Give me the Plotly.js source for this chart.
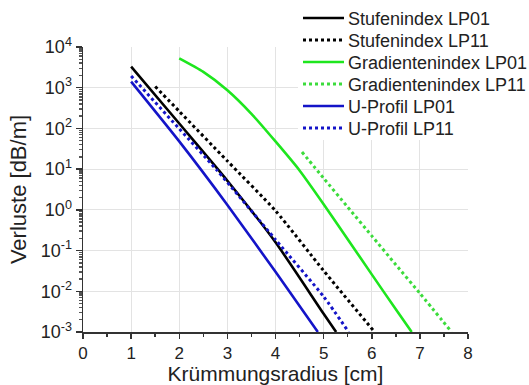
<!DOCTYPE html>
<html>
<head>
<meta charset="utf-8">
<script src="https://cdn.plot.ly/plotly-3.0.1.min.js"></script>
<style>html,body{margin:0;padding:0;background:#fff;}#chart{width:529px;height:385px;}</style>
</head>
<body>
<div id="chart"></div>
<script>
// Krümmungsradius [cm] and Verluste [dB/m]
const stufenLP01_x = [1, 2, 3, 4, 5, 5.26];
const stufenLP01_y = [3300, 132, 5.2, 0.16, 0.0028, 0.001];

const stufenLP11_x = [1.5, 2, 3, 4, 5, 6.06];
const stufenLP11_y = [1070, 263, 15.8, 0.95, 0.032, 0.001];

const gradLP01_x = [2, 2.5, 3, 3.5, 4, 4.5, 5, 5.5, 6, 6.5, 6.83];
const gradLP01_y = [5250, 2450, 870, 229, 47.9, 9.3, 1.38, 0.19, 0.026, 0.0036, 0.001];

const gradLP11_x = [4.55, 5, 5.5, 6, 6.5, 7, 7.66];
const gradLP11_y = [26.3, 6.0, 1.17, 0.23, 0.045, 0.0089, 0.001];

const uLP01_x = [1, 2, 3, 4, 4.88];
const uLP01_y = [1410, 48, 1.32, 0.030, 0.001];

const uLP11_x = [1, 2, 2.78, 4, 5, 5.52];
const uLP11_y = [1950, 98, 9.5, 0.186, 0.0074, 0.001];

const seriesNames = ["Stufenindex LP01", "Stufenindex LP11", "Gradientenindex LP01",
                     "Gradientenindex LP11", "U-Profil LP01", "U-Profil LP11"];
const seriesColors = ["#000000", "#000000", "#1ee61e", "#3cdc3c", "#1414c8", "#1414c8"];
const seriesDash = ["solid", "dot", "solid", "dot", "solid", "dot"];

const yTickVals = [0.001, 0.01, 0.1, 1, 10, 100, 1000, 10000];
const yTickText = ["10<sup>-3</sup>", "10<sup>-2</sup>", "10<sup>-1</sup>", "10<sup>0</sup>",
                   "10<sup>1</sup>", "10<sup>2</sup>", "10<sup>3</sup>", "10<sup>4</sup>"];
const xTickVals = [0, 1, 2, 3, 4, 5, 6, 7, 8];
const xTickText = ["0", "1", "2", "3", "4", "5", "6", "7", "8"];

const FONT = "Liberation Sans, Arial, sans-serif";
const W = 529, H = 385;
const M = {l: 83, r: 61, t: 47, b: 53};
const pw = W - M.l - M.r, ph = H - M.t - M.b;
const px2x = p => (p - M.l) / pw;
const px2y = p => (H - M.b - p) / ph;

const xs = [stufenLP01_x, stufenLP11_x, gradLP01_x, gradLP11_x, uLP01_x, uLP11_x];
const ys = [stufenLP01_y, stufenLP11_y, gradLP01_y, gradLP11_y, uLP01_y, uLP11_y];

const data = xs.map((x, i) => ({
  x: x, y: ys[i], name: seriesNames[i], type: "scatter", mode: "lines",
  line: {color: seriesColors[i], width: seriesDash[i] === "dot" ? 3 : 2.6,
         dash: seriesDash[i], shape: "spline", smoothing: 0.6}
}));

// custom legend (white box, line samples, labels)
const legendTop = 7, rowGap = 22, firstRow = 18;
const shapes = [{
  type: "rect", xref: "paper", yref: "paper",
  x0: px2x(298), x1: px2x(529), y0: px2y(legendTop), y1: px2y(140),
  fillcolor: "#ffffff", line: {width: 0}, layer: "above"
}];
const annotations = [];
seriesNames.forEach((n, i) => {
  const cy = firstRow + i * rowGap;
  shapes.push({type: "line", xref: "paper", yref: "paper", layer: "above",
    x0: px2x(303), x1: px2x(344), y0: px2y(cy), y1: px2y(cy),
    line: {color: seriesColors[i], width: seriesDash[i] === "dot" ? 3 : 2.6, dash: seriesDash[i]}});
  annotations.push({text: n, xref: "paper", yref: "paper", x: px2x(346), y: px2y(cy + 1),
    xanchor: "left", yanchor: "middle", showarrow: false,
    font: {family: FONT, size: 18, color: "#222222"}});
});

const layout = {
  width: W, height: H,
  margin: {l: M.l, r: M.r, t: M.t, b: M.b, pad: 0, autoexpand: false},
  paper_bgcolor: "#ffffff", plot_bgcolor: "#ffffff",
  font: {family: FONT, color: "#222222", size: 17},
  showlegend: false,
  shapes: shapes,
  annotations: annotations,
  xaxis: {
    range: [0, 8], tickmode: "array", tickvals: xTickVals, ticktext: xTickText,
    showline: true, linecolor: "#333333", linewidth: 1.5,
    ticks: "outside", ticklen: 5, tickcolor: "#333333", tickwidth: 1.5,
    showgrid: true, gridcolor: "#e3e3e3", gridwidth: 1, zeroline: false,
    minor: {dtick: 0.5, ticks: "outside", ticklen: 3, tickcolor: "#333333", showgrid: false},
    tickfont: {size: 17, family: FONT, color: "#222222"},
    title: {text: "Krümmungsradius [cm]", font: {size: 21, family: FONT, color: "#222222"}, standoff: 7},
    automargin: false
  },
  yaxis: {
    type: "log", range: [-3, 4], tickmode: "array", tickvals: yTickVals, ticktext: yTickText,
    showline: true, linecolor: "#333333", linewidth: 1.5,
    ticks: "outside", ticklen: 6, tickcolor: "#333333", tickwidth: 1.5,
    showgrid: true, gridcolor: "#e3e3e3", gridwidth: 1, zeroline: false,
    minor: {dtick: "D1", ticks: "outside", ticklen: 3, tickcolor: "#555555", showgrid: false},
    tickfont: {size: 18, family: FONT, color: "#222222"},
    title: {text: "Verluste [dB/m]", font: {size: 22, family: FONT, color: "#222222"}, standoff: 8},
    automargin: false
  }
};

Plotly.newPlot("chart", data, layout, {displayModeBar: false, staticPlot: true});
</script>
</body>
</html>
